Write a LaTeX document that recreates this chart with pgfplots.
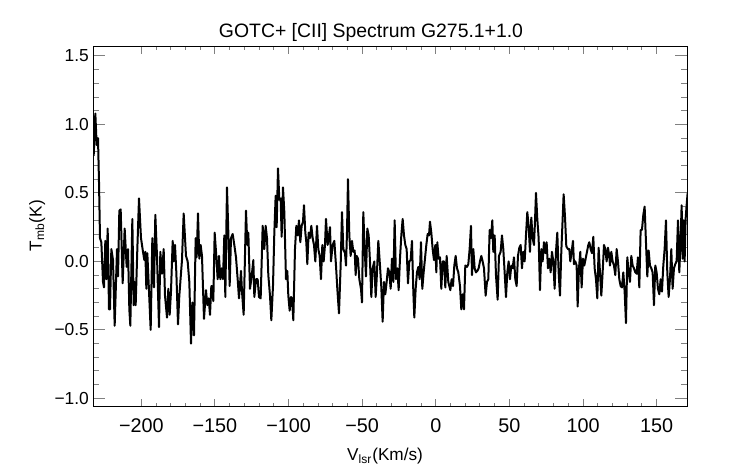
\documentclass[border=0pt]{standalone}
\usepackage{pgfplots}
\pgfplotsset{compat=1.18}
\usepackage{fontspec}
\setmainfont{Liberation Sans}
\begin{document}
\begin{tikzpicture}
\path[use as bounding box] (-46.65pt,-28.65pt) rectangle (324.35pt,203.35pt);
\begin{axis}[
  at={(0,0)}, anchor=south west,
  scale only axis, width=297pt, height=180pt,
  xmin=-232.6, xmax=170.8, ymin=-1.061, ymax=1.568,
  axis line style={line width=0.5pt},
  xtick={-200,-150,-100,-50,0,50,100,150},
  xticklabels={−200,−150,−100,−50,0,50,100,150},
  ytick={-1,-0.5,0,0.5,1,1.5},
  yticklabels={−1.0,−0.5,0.0,0.5,1.0,1.5},
  minor x tick num=4, minor y tick num=4,
  tick align=inside, tick pos=both,
  xtick style={line width=0.5pt,/pgfplots/major tick length=3.6pt,/pgfplots/minor tick length=1.8pt},
  ytick style={line width=0.5pt,/pgfplots/major tick length=5.95pt,/pgfplots/minor tick length=2.97pt},
  xticklabel style={inner sep=0pt, anchor=north, yshift=-5.8pt, font=\fontsize{9.9}{11}\selectfont},
  yticklabel style={inner sep=0pt, anchor=east, xshift=-2pt, font=\fontsize{8.7}{10}\selectfont},
  xlabel={V\textsubscript{lsr}(Km/s)},
  ylabel={T\textsubscript{mb}(K)},
  xlabel style={at={(axis description cs:0.4266,0)}, anchor=base west, yshift=-27pt, inner sep=0pt, font=\fontsize{8.6}{10}\selectfont},
  ylabel style={at={(axis description cs:0,0.4306)}, anchor=base west, yshift=25.8pt, inner sep=0pt, font=\fontsize{8.6}{10}\selectfont},
  title={GOTC+ [CII] Spectrum G275.1+1.0},
  every axis title shift=0pt,
  title style={at={(axis description cs:0.4675,1)}, anchor=base, yshift=4.6pt, inner sep=0pt, font=\fontsize{9.7}{11}\selectfont},
]
\addplot[black, line width=1pt, line join=round, mark=none] table {
x y
-232.35 0.77
-231.22 1.08
-230.31 0.85
-229.41 0.90
-228.73 0.58
-228.05 0.17
-227.14 0.14
-226.01 -0.15
-225.33 -0.19
-224.43 0.15
-223.75 -0.13
-222.84 0.24
-221.94 -0.35
-221.26 -0.35
-220.35 0.09
-219.22 0.01
-218.09 -0.47
-216.50 0.09
-215.82 -0.11
-214.92 0.37
-214.01 0.38
-212.66 -0.16
-211.30 0.24
-209.94 -0.04
-209.03 0.09
-208.13 -0.35
-207.45 -0.47
-206.09 0.31
-205.19 -0.32
-204.51 -0.15
-203.83 -0.32
-202.70 0.09
-201.57 0.46
-200.21 0.17
-198.85 0.07
-197.94 0.01
-197.26 0.07
-196.58 -0.20
-195.91 0.06
-195.00 -0.16
-193.64 -0.50
-192.51 0.17
-191.38 -0.19
-190.47 0.34
-189.35 0.04
-187.98 -0.48
-187.08 0.07
-185.95 -0.09
-184.81 0.09
-183.91 -0.25
-182.55 -0.41
-181.65 -0.20
-180.74 -0.39
-179.84 -0.22
-178.70 0.15
-178.02 0.00
-177.12 0.12
-176.21 -0.08
-175.08 -0.46
-174.18 -0.25
-172.37 0.01
-171.23 0.35
-169.65 0.04
-168.52 0.00
-167.39 -0.15
-166.25 -0.60
-165.35 -0.30
-164.22 -0.54
-163.09 0.17
-162.41 0.03
-161.50 0.35
-160.60 0.02
-159.69 0.12
-158.79 0.04
-157.43 -0.42
-156.07 -0.21
-155.16 -0.32
-154.26 -0.27
-153.35 -0.39
-152.45 -0.18
-151.99 -0.18
-151.09 -0.29
-150.18 0.21
-149.27 0.07
-148.14 -0.13
-147.24 0.04
-146.33 -0.13
-145.43 -0.05
-144.52 -0.13
-143.62 0.19
-142.94 -0.26
-141.81 0.54
-140.90 0.21
-140.00 -0.18
-139.09 0.17
-137.96 0.20
-136.83 0.12
-135.69 0.03
-134.56 -0.13
-133.66 -0.27
-132.30 -0.07
-131.62 -0.22
-130.49 -0.39
-128.90 0.37
-128.00 0.12
-127.32 0.21
-126.19 -0.20
-125.05 -0.11
-123.92 0.01
-123.24 -0.26
-122.11 -0.13
-120.98 -0.13
-120.08 -0.26
-118.94 -0.27
-117.58 0.26
-116.45 0.09
-115.55 0.26
-114.64 0.17
-113.74 -0.10
-112.60 -0.25
-111.70 -0.43
-110.57 -0.18
-109.66 0.21
-108.76 0.48
-108.08 0.25
-107.17 0.68
-106.27 0.45
-105.36 0.46
-104.69 0.18
-103.78 0.54
-102.87 0.36
-101.74 -0.13
-100.84 -0.07
-100.16 -0.25
-99.25 -0.36
-98.35 -0.26
-97.67 -0.27
-96.76 -0.43
-95.63 0.09
-94.72 0.26
-93.82 0.19
-92.91 0.30
-92.01 0.14
-91.10 0.26
-90.20 0.29
-89.52 0.41
-88.61 0.21
-87.93 0.14
-87.26 -0.02
-86.35 0.21
-85.44 0.17
-84.54 0.26
-83.63 0.17
-82.73 0.12
-81.82 0.00
-80.69 0.26
-79.79 0.09
-78.88 0.04
-77.98 -0.13
-77.07 0.12
-76.16 0.00
-75.26 0.12
-74.58 0.31
-73.45 0.12
-72.32 0.21
-71.86 0.25
-71.18 0.00
-70.05 0.12
-68.92 0.15
-67.79 -0.03
-66.88 -0.20
-65.75 -0.38
-64.62 -0.03
-63.71 0.36
-62.81 0.09
-61.67 0.06
-60.99 -0.03
-60.32 0.21
-59.64 0.60
-58.73 0.19
-57.83 0.04
-56.92 0.15
-56.02 0.07
-55.11 0.08
-54.43 -0.10
-53.75 0.04
-52.85 0.02
-51.94 -0.13
-50.81 -0.20
-50.13 -0.30
-49.23 0.36
-48.32 0.09
-47.42 -0.11
-46.51 0.24
-45.60 0.19
-44.70 0.00
-43.79 -0.26
-42.89 -0.05
-41.76 0.00
-40.85 -0.26
-40.17 -0.13
-39.04 0.15
-37.91 -0.03
-37.00 -0.19
-36.10 -0.44
-35.19 -0.15
-34.29 -0.24
-33.38 -0.15
-32.48 -0.05
-31.57 -0.08
-30.66 -0.20
-29.76 0.02
-28.85 -0.15
-27.95 0.30
-27.04 -0.13
-26.14 -0.05
-25.23 -0.21
-24.33 0.02
-23.42 0.19
-22.51 0.31
-21.61 0.19
-20.70 0.12
-19.80 0.09
-18.89 -0.16
-17.99 0.00
-17.08 0.01
-16.18 0.15
-15.27 -0.22
-14.59 -0.41
-13.69 -0.20
-12.78 -0.08
-11.88 -0.04
-10.97 -0.13
-10.07 0.14
-9.16 -0.20
-8.26 -0.08
-7.35 0.02
-6.44 0.12
-5.54 0.20
-4.63 0.19
-3.95 0.29
-3.05 0.21
-2.14 0.09
-1.24 0.01
-0.33 0.12
0.35 -0.08
1.02 0.14
1.93 0.02
2.84 0.03
3.74 -0.20
4.65 0.00
5.55 0.00
6.46 -0.19
7.37 0.04
8.49 -0.15
9.86 -0.21
10.76 -0.13
11.67 -0.18
12.57 -0.03
13.48 0.04
14.38 -0.05
15.29 -0.08
16.42 -0.18
17.32 -0.35
18.23 -0.24
19.14 -0.35
20.04 -0.03
21.17 -0.04
22.08 -0.02
22.98 0.09
23.89 0.26
24.57 -0.10
25.47 0.09
26.38 -0.05
27.28 -0.08
28.19 -0.07
29.10 -0.05
30.00 0.00
30.91 0.04
31.81 0.00
32.72 -0.05
33.85 -0.25
34.75 -0.15
35.66 -0.13
36.56 0.23
37.47 0.17
38.38 0.30
39.05 0.07
39.96 0.19
40.86 -0.10
42.00 -0.28
42.90 0.04
44.03 0.07
44.94 0.19
45.84 0.09
46.75 -0.08
47.66 -0.26
48.56 -0.08
49.47 0.00
50.37 -0.13
51.28 -0.03
52.18 -0.05
53.09 0.03
53.99 -0.13
54.90 -0.18
55.80 0.04
56.71 0.10
57.62 0.12
58.52 -0.05
59.43 0.07
60.33 0.00
61.24 0.19
62.14 0.36
63.05 0.26
63.95 0.07
64.86 0.32
65.76 0.17
66.67 0.12
67.35 0.29
68.03 0.50
68.93 0.31
69.84 0.17
70.74 -0.21
71.65 0.09
72.55 0.00
73.46 0.14
74.37 0.06
75.27 0.14
76.18 -0.05
77.08 0.02
77.99 -0.08
78.89 0.07
79.80 0.00
80.70 -0.20
81.61 0.07
82.51 0.21
83.42 -0.08
84.33 -0.25
85.23 0.07
86.14 0.31
86.81 0.49
87.72 0.33
88.62 0.11
89.76 0.09
90.67 0.09
91.34 0.00
92.25 0.07
93.16 0.15
93.83 -0.02
94.74 0.00
95.64 -0.03
96.32 -0.33
97.23 -0.05
98.13 0.07
99.04 -0.19
99.95 0.02
100.85 -0.03
101.76 0.02
102.66 0.07
103.57 0.12
104.25 0.14
105.15 0.09
106.06 0.06
106.96 0.18
107.87 -0.05
108.77 -0.13
109.68 -0.27
110.58 0.10
111.49 -0.08
112.40 -0.25
113.30 -0.08
114.21 0.12
115.11 0.09
116.02 0.00
116.92 0.10
117.83 0.04
118.28 -0.03
119.19 0.07
120.09 0.00
121.00 -0.03
121.90 -0.10
122.81 0.09
123.71 0.00
124.62 -0.13
125.52 -0.18
126.43 -0.19
127.33 -0.08
128.24 -0.22
129.15 -0.45
130.05 0.03
130.96 -0.08
131.86 -0.15
132.77 0.04
133.67 -0.03
134.58 -0.05
135.48 -0.08
136.39 -0.09
137.29 0.03
138.20 -0.19
139.10 0.23
140.01 0.23
140.92 0.34
141.82 0.40
142.73 0.14
143.63 -0.11
144.54 0.08
145.44 -0.03
146.35 -0.05
147.25 -0.08
148.16 -0.32
149.06 -0.03
149.97 -0.08
150.87 -0.20
151.78 -0.24
152.69 -0.13
153.59 -0.22
154.50 -0.03
155.40 0.09
156.31 0.30
157.21 -0.08
158.12 -0.26
159.02 -0.13
159.93 0.09
160.83 -0.20
161.74 -0.05
162.64 -0.02
163.55 0.00
164.46 0.30
165.36 -0.08
166.27 0.17
166.95 0.41
167.62 0.02
168.30 0.30
168.98 0.00
169.66 0.31
170.34 0.41
171.02 0.50
};
\end{axis}
\end{tikzpicture}
\end{document}
